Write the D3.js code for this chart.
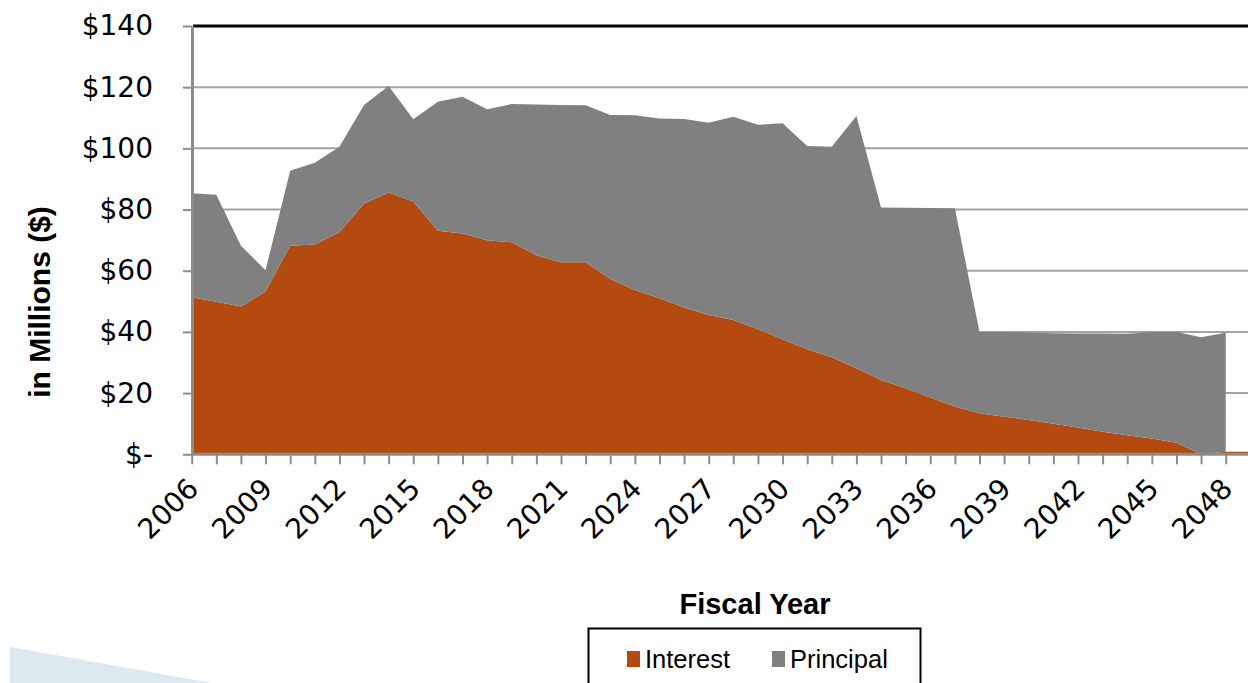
<!DOCTYPE html>
<html>
<head>
<meta charset="utf-8">
<script src="https://cdn.jsdelivr.net/npm/d3@7"></script>
<style>
  html, body { margin: 0; padding: 0; background: #fff; }
  svg { display: block; }
</style>
</head>
<body>
<svg id="chart" width="1248" height="683"></svg>
<script>
// Debt service by fiscal year, $ millions
const years = [2006, 2007, 2008, 2009, 2010, 2011, 2012, 2013, 2014, 2015,
               2016, 2017, 2018, 2019, 2020, 2021, 2022, 2023, 2024, 2025,
               2026, 2027, 2028, 2029, 2030, 2031, 2032, 2033, 2034, 2035,
               2036, 2037, 2038, 2039, 2040, 2041, 2042, 2043, 2044, 2045,
               2046, 2047, 2048, 2049];

const interest = [51.3, 49.9, 48.3, 53.2, 68.2, 68.6, 72.6, 82.0, 85.6, 82.6,
                  73.1, 72.2, 70.0, 69.3, 65.1, 62.8, 62.8, 57.3, 53.7, 51.0,
                  48.0, 45.5, 43.9, 40.9, 37.6, 34.3, 31.7, 28.1, 24.3, 21.6,
                  18.6, 15.6, 13.4, 12.3, 11.2, 10.0, 8.8, 7.4, 6.2, 5.2,
                  3.8, 0.0, 0.8, 0.8];

// null = no principal payment in that year
const principal = [34.0, 34.9, 19.9, 7.0, 24.5, 26.7, 27.9, 32.2, 34.8, 26.9,
                   42.1, 44.7, 42.8, 45.2, 49.2, 51.4, 51.3, 53.6, 57.1, 58.8,
                   61.6, 62.9, 66.4, 66.8, 70.6, 66.5, 68.8, 82.5, 56.4, 59.0,
                   61.9, 64.8, 26.6, 27.7, 28.6, 29.6, 30.7, 32.1, 33.2, 34.8,
                   36.2, 38.3, 38.9, null];

const seriesNames = ["Interest", "Principal"];
const yTicks = [0, 20, 40, 60, 80, 100, 120, 140];
const xLabelYears = [2006, 2009, 2012, 2015, 2018, 2021, 2024, 2027, 2030,
                     2033, 2036, 2039, 2042, 2045, 2048];

const colors = { Interest: "#b54a10", Principal: "#808080" };
const W = 1248;

const svg = d3.select("#chart");

const x = d3.scaleLinear().domain([2006, 2048]).range([191.7, 1225.7]);
const y = d3.scaleLinear().domain([0, 140]).range([454.3, 26]);

// slide decoration in the lower-left corner
svg.append("path")
  .attr("d", "M10,647L212,683L10,683Z")
  .attr("fill", "#dbe9f1");

// horizontal gridlines
svg.append("g")
  .selectAll("line")
  .data(yTicks.filter(v => v > 0 && v < 140))
  .join("line")
  .attr("x1", 192).attr("x2", W)
  .attr("y1", d => y(d)).attr("y2", d => y(d))
  .attr("stroke", "#a3a3a3")
  .attr("stroke-width", 2);

// stacked areas
const rows = years.map((yr, i) => ({
  year: yr,
  Interest: interest[i],
  Principal: principal[i] == null ? 0 : principal[i],
  hasPrincipal: principal[i] != null
}));
const layers = d3.stack().keys(seriesNames)(rows);

svg.append("g")
  .selectAll("path")
  .data(layers)
  .join("path")
  .attr("fill", d => colors[d.key])
  .attr("d", layer => d3.area()
    .defined(p => layer.key === "Interest" || p.data.hasPrincipal)
    .x(p => x(p.data.year))
    .y0(p => y(p[0]))
    .y1(p => y(p[1]))(layer));

// top border of the plot area
svg.append("line")
  .attr("x1", 193).attr("x2", W)
  .attr("y1", y(140)).attr("y2", y(140))
  .attr("stroke", "#000")
  .attr("stroke-width", 3);

// y axis
const yAxis = d3.axisLeft(y)
  .tickValues(yTicks)
  .tickSize(9)
  .tickSizeOuter(0)
  .tickPadding(30)
  .tickFormat(d => d === 0 ? "$-" : "$" + d);

const gy = svg.append("g").attr("transform", "translate(192,0)").call(yAxis);
gy.select(".domain").attr("stroke", "#8c8c8c").attr("stroke-width", 3);
gy.selectAll(".tick line").attr("stroke", "#8c8c8c").attr("stroke-width", 2);
gy.selectAll(".tick text")
  .attr("font-family", "DejaVu Sans")
  .attr("font-size", 28)
  .attr("fill", "#000");

// x axis
const xAxis = d3.axisBottom(x)
  .tickValues(years.filter(v => v <= 2048))
  .tickSize(10)
  .tickSizeOuter(0)
  .tickFormat(d => xLabelYears.includes(d) ? String(d) : "");

const gx = svg.append("g").attr("transform", `translate(0,${y(0)})`).call(xAxis);
gx.select(".domain").remove();
gx.append("line")
  .attr("x1", 191).attr("x2", W)
  .attr("y1", 0).attr("y2", 0)
  .attr("stroke", "#8c8c8c")
  .attr("stroke-width", 3);
gx.selectAll(".tick line").attr("stroke", "#8c8c8c").attr("stroke-width", 2);
gx.selectAll(".tick text")
  .attr("x", 0).attr("y", 0).attr("dy", 0)
  .attr("text-anchor", "end")
  .attr("transform", "translate(8,36) rotate(-45)")
  .attr("font-family", "DejaVu Sans")
  .attr("font-size", 28)
  .attr("fill", "#000");

// axis titles
svg.append("text")
  .attr("transform", "translate(50,302) rotate(-90)")
  .attr("text-anchor", "middle")
  .attr("font-family", "Liberation Sans, Arial, sans-serif")
  .attr("font-weight", "bold")
  .attr("font-size", 30)
  .text("in Millions ($)");

svg.append("text")
  .attr("x", 755).attr("y", 614)
  .attr("text-anchor", "middle")
  .attr("font-family", "Liberation Sans, Arial, sans-serif")
  .attr("font-weight", "bold")
  .attr("font-size", 29)
  .text("Fiscal Year");

// legend
const legend = svg.append("g");
legend.append("rect")
  .attr("x", 588.5).attr("y", 628.5)
  .attr("width", 332).attr("height", 70)
  .attr("fill", "#fff")
  .attr("stroke", "#000")
  .attr("stroke-width", 2);

const legendX = [627, 772];
const items = legend.selectAll("g.item")
  .data(seriesNames)
  .join("g")
  .attr("class", "item")
  .attr("transform", (d, i) => `translate(${legendX[i]},0)`);
items.append("rect")
  .attr("x", 0).attr("y", 651)
  .attr("width", 13).attr("height", 16)
  .attr("fill", d => colors[d]);
items.append("text")
  .attr("x", 18).attr("y", 668)
  .attr("font-family", "Liberation Sans, Arial, sans-serif")
  .attr("font-size", 25.5)
  .attr("fill", "#000")
  .text(d => d);
</script>
</body>
</html>
